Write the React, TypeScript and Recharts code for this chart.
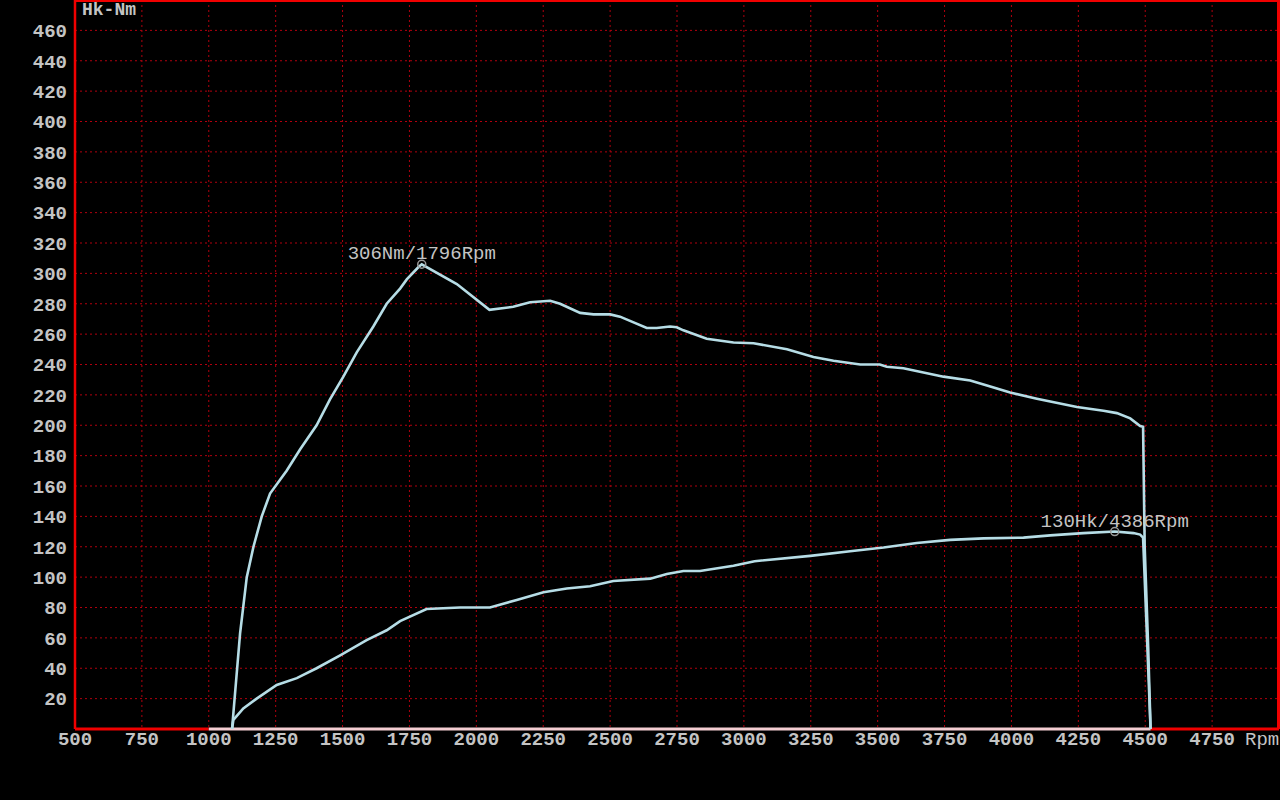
import { LineChart, Line, XAxis, YAxis, CartesianGrid, ReferenceLine, ReferenceDot } from "recharts";

const torqueRpm = [1087, 1117, 1142, 1167, 1198, 1229, 1291, 1341, 1403, 1453, 1503, 1553, 1615, 1665, 1715, 1740, 1783, 1796, 1927, 2049, 2138, 2201, 2276, 2313, 2388, 2438, 2500, 2537, 2637, 2674, 2724, 2749, 2774, 2861, 2961, 3036, 3161, 3260, 3335, 3435, 3508, 3534, 3596, 3746, 3846, 3921, 3995, 4095, 4245, 4344, 4394, 4444, 4481, 4492, 4498, 4511, 4520];
const torqueNm = [0, 63, 100, 120, 140, 155, 170, 184, 200, 217, 232, 248, 265, 280, 290, 296, 304, 306, 293, 276, 278, 281, 282, 280, 274, 273, 273, 271.5, 264, 264, 265, 264.5, 262.5, 257, 254.5, 254, 250, 245, 242.5, 240, 240, 238.5, 237.5, 232, 229.5, 225.5, 221.5, 217.5, 212, 209.5, 208, 204.5, 199.5, 199, 120, 54, 0];

const powerRpm = [1087, 1092, 1129, 1179, 1254, 1329, 1403, 1491, 1590, 1665, 1715, 1814, 1939, 2051, 2151, 2251, 2338, 2425, 2512, 2650, 2712, 2774, 2836, 2961, 3040, 3248, 3397, 3522, 3646, 3771, 3896, 4045, 4145, 4269, 4386, 4456, 4481, 4492, 4520];
const powerHk = [0, 6, 13.6, 20, 29, 33.5, 40, 48.5, 58.5, 65, 71, 79, 80, 80, 85, 90, 92.5, 94, 97.5, 99, 102, 104, 104, 107.5, 110.5, 114, 117, 119.5, 122.5, 124.5, 125.5, 126, 127.5, 129, 130, 129, 128, 126, 0];

const xTicks = [500, 750, 1000, 1250, 1500, 1750, 2000, 2250, 2500, 2750, 3000, 3250, 3500, 3750, 4000, 4250, 4500, 4750];
const yTicks = [20, 40, 60, 80, 100, 120, 140, 160, 180, 200, 220, 240, 260, 280, 300, 320, 340, 360, 380, 400, 420, 440, 460];

const torquePeak = { rpm: 1796, value: 306, label: "306Nm/1796Rpm" };
const powerPeak = { rpm: 4386, value: 130, label: "130Hk/4386Rpm" };
// light part of the bottom edge, where the run was logged
const baselineRpm = [1000, 4520];

const torqueData = torqueRpm.map((rpm, i) => ({ rpm, torque: torqueNm[i] }));
const powerData = powerRpm.map((rpm, i) => ({ rpm, power: powerHk[i] }));
const edgeLeft = [500, baselineRpm[0]].map((rpm) => ({ rpm, edge: 0 }));
const edgeMid = baselineRpm.map((rpm) => ({ rpm, base: 0 }));
const edgeRight = [baselineRpm[1], 5000].map((rpm) => ({ rpm, edge: 0 }));

const FONT = "'Liberation Mono', 'Courier New', monospace";
const TEXT = "#c4c4c4";
const CURVE = "#b6dde6";
const RED = "#f00000";

function XTick(props: any) {
  const { x, y, payload } = props;
  return (
    <text x={x} y={y} dy="0.71em" textAnchor="middle" fill={TEXT} fontFamily={FONT} fontSize={19} fontWeight="bold">
      {payload.value}
    </text>
  );
}

function YTick(props: any) {
  const { x, y, payload } = props;
  return (
    <text x={x} y={y} dy="0.36em" textAnchor="end" fill={TEXT} fontFamily={FONT} fontSize={19} fontWeight="bold">
      {payload.value}
    </text>
  );
}

const cornerText = {
  position: "absolute" as const,
  color: TEXT,
  fontFamily: FONT,
  fontSize: 18,
  lineHeight: "18px",
};

export default function App() {
  return (
    <div style={{ position: "absolute", left: 0, top: 0, width: 1280, height: 800, background: "#000" }}>
      <LineChart width={1280} height={800} margin={{ top: 0, right: 1, bottom: 41, left: 0 }}>
        <CartesianGrid stroke="#b0000e" strokeDasharray="2 3" strokeWidth={1} />
        <XAxis
          type="number"
          dataKey="rpm"
          domain={[500, 5000]}
          ticks={xTicks}
          axisLine={false}
          tickLine={false}
          tickSize={3}
          tickMargin={0}
          height={30}
          tick={<XTick />}
        />
        <YAxis
          type="number"
          domain={[0, 480]}
          ticks={yTicks}
          axisLine={false}
          tickLine={false}
          width={75}
          tick={<YTick />}
        />
        <ReferenceLine x={500} stroke={RED} strokeWidth={2.5} />
        <ReferenceLine x={5000} stroke={RED} strokeWidth={4} />
        <ReferenceLine y={480} stroke={RED} strokeWidth={4} />
        <Line data={edgeLeft} dataKey="edge" stroke={RED} strokeWidth={3} dot={false} activeDot={false} isAnimationActive={false} />
        <Line data={edgeRight} dataKey="edge" stroke={RED} strokeWidth={3} dot={false} activeDot={false} isAnimationActive={false} />
        <Line data={edgeMid} dataKey="base" stroke="#f4cdd2" strokeWidth={3} dot={false} activeDot={false} isAnimationActive={false} />
        <Line data={torqueData} dataKey="torque" type="linear" stroke={CURVE} strokeWidth={2.6} dot={false} isAnimationActive={false} />
        <Line data={powerData} dataKey="power" type="linear" stroke={CURVE} strokeWidth={2.6} dot={false} isAnimationActive={false} />
        <ReferenceDot
          x={torquePeak.rpm}
          y={torquePeak.value}
          r={4}
          fill="none"
          stroke="#9c9c9c"
          strokeWidth={1.5}
          label={{ value: torquePeak.label, position: "top", offset: 1, fill: TEXT, fontFamily: FONT, fontSize: 19 }}
        />
        <ReferenceDot
          x={powerPeak.rpm}
          y={powerPeak.value}
          r={4}
          fill="none"
          stroke="#9c9c9c"
          strokeWidth={1.5}
          label={{ value: powerPeak.label, position: "top", offset: 1, fill: TEXT, fontFamily: FONT, fontSize: 19 }}
        />
      </LineChart>
      <div style={{ ...cornerText, left: 82, top: 1, fontWeight: "bold" }}>Hk-Nm</div>
      <div style={{ ...cornerText, left: 1245, top: 731, fontSize: 19 }}>Rpm</div>
    </div>
  );
}
